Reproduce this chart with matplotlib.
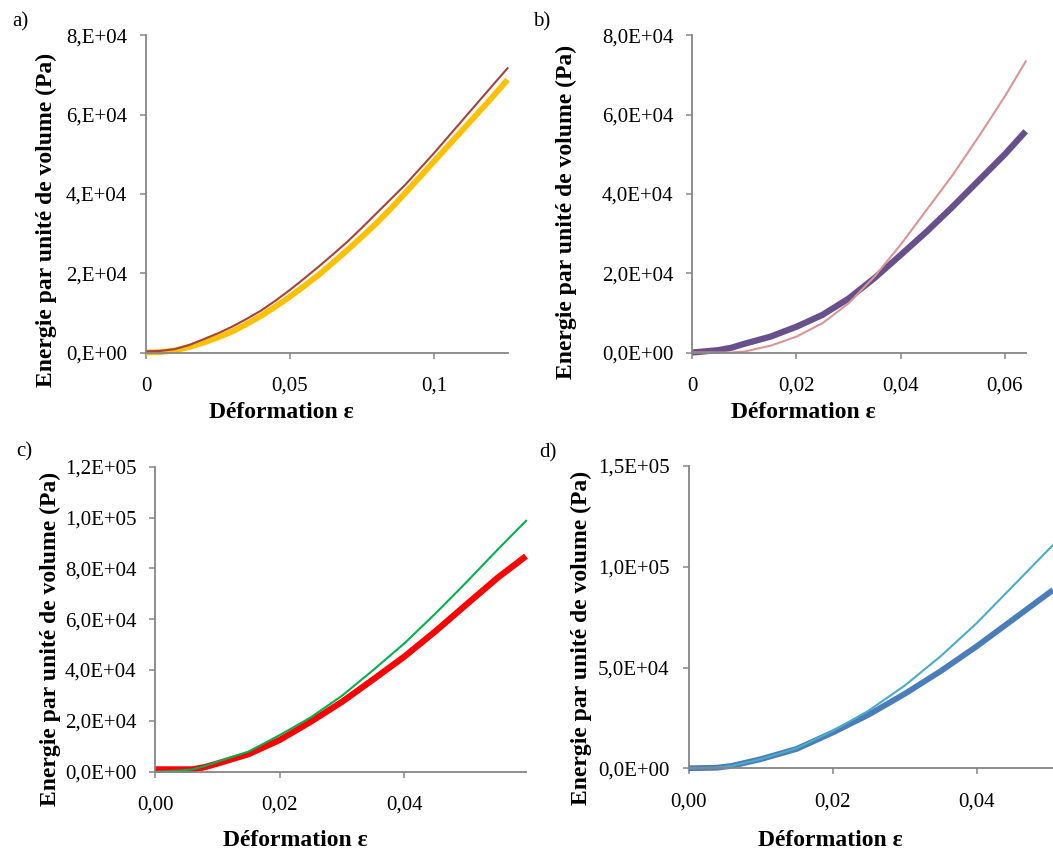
import numpy as np
import matplotlib.pyplot as plt

plt.rcParams['font.family'] = ['Liberation Serif', 'DejaVu Serif']

W, H = 1053, 850

# a) deformation / energy per unit volume
eps_a = [0, 0.005, 0.01, 0.015, 0.02, 0.025, 0.03, 0.035, 0.04, 0.045, 0.05, 0.055,
         0.06, 0.065, 0.07, 0.075, 0.08, 0.085, 0.09, 0.095, 0.1, 0.105, 0.11,
         0.115, 0.12, 0.1255]
a_brown = [300, 400, 850, 1900, 3350, 4850, 6550, 8500, 10600, 13100, 15800, 18700,
           21700, 24800, 28000, 31500, 35100, 38700, 42300, 46300, 50300, 54500, 58700,
           62900, 67100, 71700]
a_yellow = [0, 100, 500, 1400, 2500, 3800, 5300, 7200, 9250, 11600, 14100, 16800,
            19600, 22700, 25900, 29200, 32600, 36300, 40200, 44200, 48200, 52200, 56200,
            60200, 64200, 68800]

# b)
eps_b = [0, 0.005, 0.0075, 0.01, 0.015, 0.02, 0.025, 0.03, 0.035, 0.04, 0.045,
         0.05, 0.055, 0.06, 0.064]
b_pink = [0, 0, 0, 250, 1700, 4000, 7400, 12400, 19200, 27200, 36000,
          44800, 54500, 64600, 73400]
b_purple = [0, 600, 1200, 2200, 4000, 6500, 9500, 13600, 18800, 24600, 30500,
            36800, 43400, 50000, 55800]

# c)
eps_c = [0, 0.003, 0.006, 0.008, 0.01, 0.015, 0.02, 0.025, 0.03, 0.035, 0.04, 0.045,
         0.05, 0.055, 0.0595]
c_green = [0, 300, 900, 2200, 3900, 7900, 14400, 21400, 29900, 40000, 50500, 62300,
           74700, 87500, 98700]
c_red = [900, 900, 900, 1800, 3200, 6900, 12500, 19700, 27500, 36300, 45300, 55300,
         65900, 76400, 84800]

# d)
eps_d = [0, 0.004, 0.006, 0.01, 0.015, 0.02, 0.025, 0.03, 0.035, 0.04, 0.045,
         0.0506]
d_cyan = [0, 300, 1200, 4500, 9900, 18500, 28600, 41000, 55600, 72000, 90300,
          110800]
d_blue = [0, 300, 1200, 4500, 9600, 17700, 26600, 36900, 48200, 60500, 73700,
          88500]

ylab = 'Energie par unité de volume (Pa)'
xlab = 'Déformation ε'
axcol = '#868686'

fig = plt.figure(figsize=(W / 100, H / 100), dpi=100)


def make_axes(l, r, t, b):
    return fig.add_axes([l / W, 1 - b / H, (r - l) / W, (b - t) / H])


def style(ax, xlim, xticks, xlabels, ylim, yticks, ylabels, ylc, xlc):
    ax.set_xlim(xlim)
    ax.set_ylim(ylim)
    ax.set_xticks(xticks)
    ax.set_xticklabels(xlabels)
    ax.set_yticks(yticks)
    ax.set_yticklabels(ylabels)
    for s in ['top', 'right']:
        ax.spines[s].set_visible(False)
    for s in ['left', 'bottom']:
        ax.spines[s].set_color(axcol)
        ax.spines[s].set_linewidth(1.3)
    ax.tick_params(axis='both', direction='out', length=4, width=1.1,
                   color=axcol, labelsize=15)
    ax.tick_params(axis='x', pad=13.5)
    ax.tick_params(axis='y', pad=9.5)
    ax.set_ylabel(ylab, fontsize=17, fontweight='bold', va='center')
    ax.set_xlabel(xlab, fontsize=17, fontweight='bold', va='center')
    ax.yaxis.set_label_coords(ylc[0] / W, 1 - ylc[1] / H, transform=fig.transFigure)
    ax.xaxis.set_label_coords(xlc[0] / W, 1 - xlc[1] / H, transform=fig.transFigure)


# a)
ax = make_axes(146, 507.5, 35.3, 352.5)
ax.plot(eps_a, a_yellow, color='#FFC000', lw=4.2, solid_capstyle='butt', clip_on=False)
ax.plot(eps_a, a_brown, color='#A3423F', lw=1.5, clip_on=False)
style(ax, (0, 0.1255), [0, 0.05, 0.1], ['0', '0,05', '0,1'],
      (0, 8e4), [0, 2e4, 4e4, 6e4, 8e4],
      ['0,E+00', '2,E+04', '4,E+04', '6,E+04', '8,E+04'],
      (46, 220), (281, 413))

# b)
ax = make_axes(692.3, 1025.7, 35.3, 352.5)
ax.plot(eps_b, b_purple, color='#67508C', lw=4.5, solid_capstyle='butt', clip_on=False)
ax.plot(eps_b, b_pink, color='#D99694', lw=1.5, clip_on=False)
style(ax, (0, 0.064), [0, 0.02, 0.04, 0.06], ['0', '0,02', '0,04', '0,06'],
      (0, 8e4), [0, 2e4, 4e4, 6e4, 8e4],
      ['0,0E+00', '2,0E+04', '4,0E+04', '6,0E+04', '8,0E+04'],
      (566.7, 211.7), (803.3, 413))

# c)
ax = make_axes(155, 526, 466.7, 771.7)
ax.plot(eps_c, c_red, color='#FF0000', lw=4.5, solid_capstyle='butt', clip_on=False)
ax.plot(eps_c, c_green, color='#00B050', lw=1.5, clip_on=False)
style(ax, (0, 0.0595), [0, 0.02, 0.04], ['0,00', '0,02', '0,04'],
      (0, 1.2e5), [0, 2e4, 4e4, 6e4, 8e4, 1e5, 1.2e5],
      ['0,0E+00', '2,0E+04', '4,0E+04', '6,0E+04', '8,0E+04', '1,0E+05', '1,2E+05'],
      (50, 639), (295, 841))

# d)
ax = make_axes(688.5, 1053, 466, 768.3)
ax.plot(eps_d, d_blue, color='#4A7EBB', lw=4.2, solid_capstyle='butt', clip_on=False)
ax.plot(eps_d, d_cyan, color='#4BACC6', lw=1.5, clip_on=False)
style(ax, (0, 0.0506), [0, 0.02, 0.04], ['0,00', '0,02', '0,04'],
      (0, 1.5e5), [0, 5e4, 1e5, 1.5e5],
      ['0,0E+00', '5,0E+04', '1,0E+05', '1,5E+05'],
      (581.7, 638), (830.8, 840))

# panel letters
for txt, x, y in [('a)', 20, 21.5), ('b)', 542, 21.5), ('c)', 24, 451.5), ('d)', 547.5, 452.5)]:
    fig.text(x / W, 1 - y / H, txt, fontsize=15, ha='center', va='center')

fig.savefig('out.png', dpi=100)
